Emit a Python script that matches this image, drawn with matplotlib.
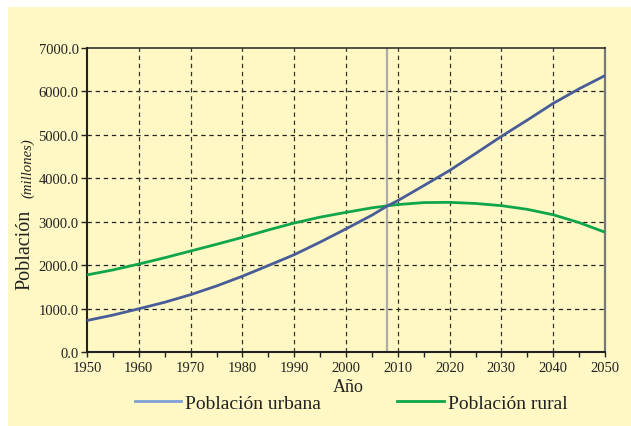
import matplotlib
matplotlib.use("Agg")
import matplotlib.pyplot as plt
from matplotlib.patches import Rectangle
from matplotlib.lines import Line2D

years = [1950, 1955, 1960, 1965, 1970, 1975, 1980, 1985, 1990, 1995, 2000, 2005,
         2008, 2010, 2015, 2020, 2025, 2030, 2035, 2040, 2045, 2050]
urbana = [725, 850, 995, 1145, 1320, 1520, 1745, 1990, 2240, 2530, 2835, 3150,
          3365, 3485, 3830, 4180, 4570, 4965, 5340, 5725, 6060, 6365]
rural = [1775, 1890, 2025, 2170, 2325, 2480, 2640, 2810, 2970, 3105, 3215, 3320,
         3365, 3395, 3440, 3446, 3420, 3370, 3285, 3160, 2980, 2758]
yticks = [0, 1000, 2000, 3000, 4000, 5000, 6000, 7000]
xticks = list(range(1950, 2051, 10))
year_marker = 2008

bg = "#FFF8C4"
blue = "#485C98"
green = "#0FA64B"
legend_blue = "#7E9FD6"

plt.rcParams['font.family'] = ['Liberation Serif', 'DejaVu Serif']

fig = plt.figure(figsize=(6.31, 4.27), dpi=100, facecolor="white")
fig.patches.append(Rectangle((8/631, 0), 1, 1 - 8/427, transform=fig.transFigure,
                             facecolor=bg, edgecolor="none", zorder=-10))
ax = fig.add_axes([87/631, 1 - 353/427, (605-87)/631, (353-49)/427])
ax.set_facecolor(bg)

ax.set_xlim(1950, 2050)
ax.set_ylim(0, 7000)

for y in yticks[1:-1]:
    ax.axhline(y, color="#222222", lw=0.9, ls=(0, (3.5, 3)), zorder=1)
for x in xticks[1:-1]:
    ax.axvline(x, color="#333333", lw=0.9, ls=(0, (3.5, 3)), zorder=1)

ax.axvline(year_marker, color="#ABABAB", lw=1.6, zorder=2)

ax.plot(years, rural, color=green, lw=2.0, zorder=3, solid_capstyle="butt")
ax.plot(years, urbana, color=blue, lw=2.0, zorder=4, solid_capstyle="butt")

ax.set_yticks(yticks)
ax.set_yticklabels([f"{v:.1f}" for v in yticks], fontsize=10.5)
ax.set_xticks(xticks)
ax.set_xticklabels([str(v) for v in xticks], fontsize=10.5)
ax.set_xticks(list(range(1955, 2050, 10)), minor=True)
ax.tick_params(axis="y", direction="out", length=4, width=1, pad=2, colors="#222222")
ax.tick_params(axis="x", which="both", direction="out", length=3.5, width=1, pad=3, colors="#222222")
ax.tick_params(labelcolor="#222222")

for s in ["left", "bottom"]:
    ax.spines[s].set_color("#222222")
    ax.spines[s].set_linewidth(1.5)
ax.spines["top"].set_color("#222222")
ax.spines["top"].set_linewidth(1.1)
ax.spines["right"].set_color("#777777")
ax.spines["right"].set_linewidth(1.6)

fig.text(348/631, 1 - 388/427, "Año", ha="center", va="center", fontsize=13, color="#222222")
fig.text(25/631, 1 - 250/427, "Población", rotation=90, ha="center", va="center",
         fontsize=14.5, color="#222222")
fig.text(28/631, 1 - 168/427, "(millones)", rotation=90, ha="center", va="center",
         fontsize=10.5, style="italic", color="#222222")

handles = [Line2D([], [], color=legend_blue, lw=2), Line2D([], [], color=green, lw=2)]
fig.legend(handles, ["Población urbana", "Población rural"], loc="center",
           bbox_to_anchor=(351/631, 1 - 404/427), ncol=2, frameon=False,
           fontsize=14, handlelength=2.4, handletextpad=0.2, columnspacing=3.9,
           labelcolor="#222222")

fig.savefig("out.png", dpi=100, facecolor=fig.get_facecolor())
